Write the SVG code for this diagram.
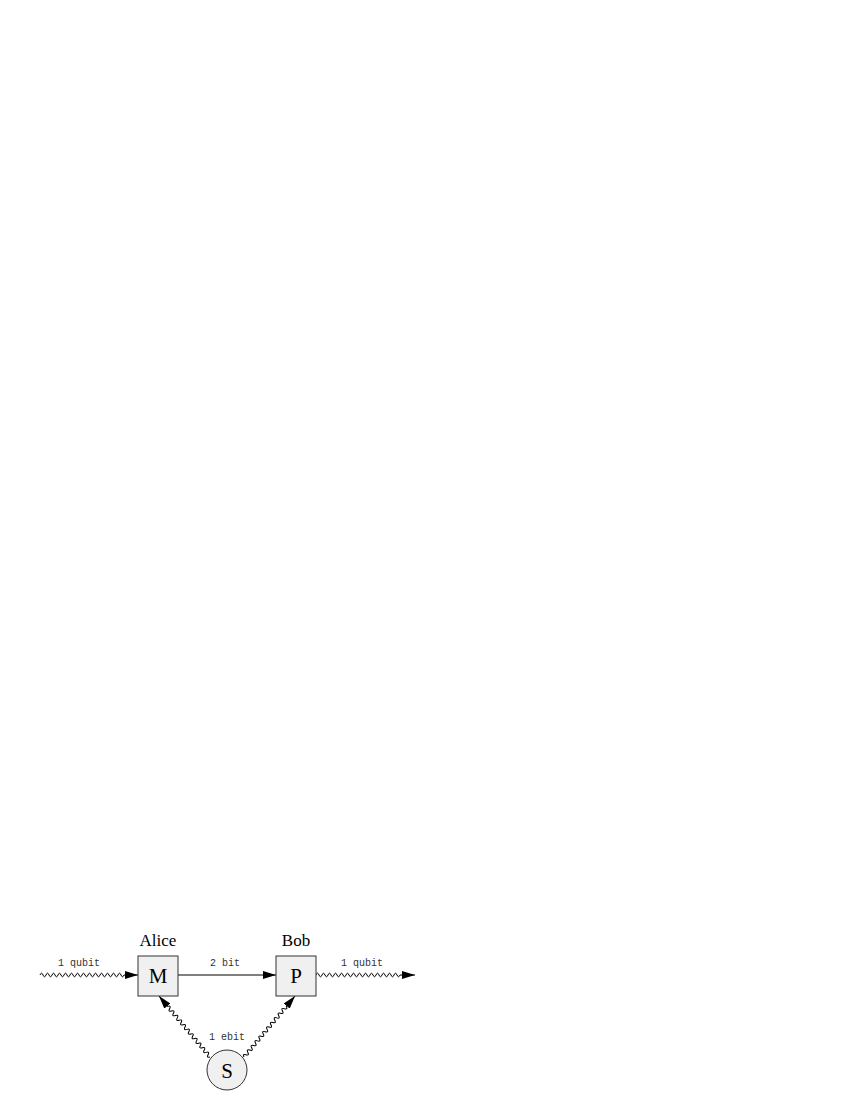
<svg xmlns="http://www.w3.org/2000/svg" width="850" height="1100" viewBox="0 0 850 1100">
<style>
.box{fill:#f0f0f0;stroke:#333;stroke-width:1}
.big{font-family:"Liberation Serif",serif;font-size:21px;fill:#000;text-anchor:middle}
.name{font-family:"Liberation Serif",serif;font-size:17px;fill:#000;text-anchor:middle}
.lbl{font-family:"Liberation Mono",monospace;font-size:10px;fill:#333;text-anchor:middle}
.wire{fill:none;stroke:#000;stroke-width:1}
</style>
<defs>
<marker id="ah" viewBox="0 0 13 8" refX="13" refY="4" markerWidth="13" markerHeight="8" markerUnits="userSpaceOnUse" orient="auto">
<path d="M0,0 L13,4 L0,8 z" fill="#000"/>
</marker>
</defs>
<g id="connectors">
<path class="wire" marker-end="url(#ah)" transform="translate(40,975)" d="M0,0 q1.5,-3.6 3,0 t3,0 t3,0 t3,0 t3,0 t3,0 t3,0 t3,0 t3,0 t3,0 t3,0 t3,0 t3,0 t3,0 t3,0 t3,0 t3,0 t3,0 t3,0 t3,0 t3,0 t3,0 t3,0 t3,0 t3,0 t3,0 t3,0 t3,0 L98,0"/>
<path class="wire" marker-end="url(#ah)" d="M178,975 L276,975"/>
<path class="wire" marker-end="url(#ah)" transform="translate(316,975)" d="M0,0 q1.5,-3.6 3,0 t3,0 t3,0 t3,0 t3,0 t3,0 t3,0 t3,0 t3,0 t3,0 t3,0 t3,0 t3,0 t3,0 t3,0 t3,0 t3,0 t3,0 t3,0 t3,0 t3,0 t3,0 t3,0 t3,0 t3,0 t3,0 t3,0 t3,0 L99,0"/>
<path class="wire" marker-end="url(#ah)" transform="translate(210,1057) rotate(-129.9)" d="M0,0 q1.5,-3.6 3,0 t3,0 t3,0 t3,0 t3,0 t3,0 t3,0 t3,0 t3,0 t3,0 t3,0 t3,0 t3,0 t3,0 t3,0 t3,0 t3,0 t3,0 t3,0 t3,0 t3,0 t3,0 L79.5,0"/>
<path class="wire" marker-end="url(#ah)" transform="translate(244,1057) rotate(-50.1)" d="M0,0 q1.5,-3.6 3,0 t3,0 t3,0 t3,0 t3,0 t3,0 t3,0 t3,0 t3,0 t3,0 t3,0 t3,0 t3,0 t3,0 t3,0 t3,0 t3,0 t3,0 t3,0 t3,0 t3,0 t3,0 L79.5,0"/>
<text class="lbl" x="79" y="966">1 qubit</text>
<text class="lbl" x="225" y="966">2 bit</text>
<text class="lbl" x="362" y="966">1 qubit</text>
<text class="lbl" x="227" y="1040">1 ebit</text>
</g>
<g id="alice">
<text class="name" x="158" y="946">Alice</text>
<rect class="box" x="138" y="956" width="40" height="40"/>
<text class="big" x="158" y="983">M</text>
</g>
<g id="bob">
<text class="name" x="296" y="946">Bob</text>
<rect class="box" x="276" y="956" width="40" height="40"/>
<text class="big" x="296" y="983">P</text>
</g>
<g id="source">
<circle class="box" cx="227" cy="1070" r="20"/>
<text class="big" x="227" y="1078">S</text>
</g>
</svg>
